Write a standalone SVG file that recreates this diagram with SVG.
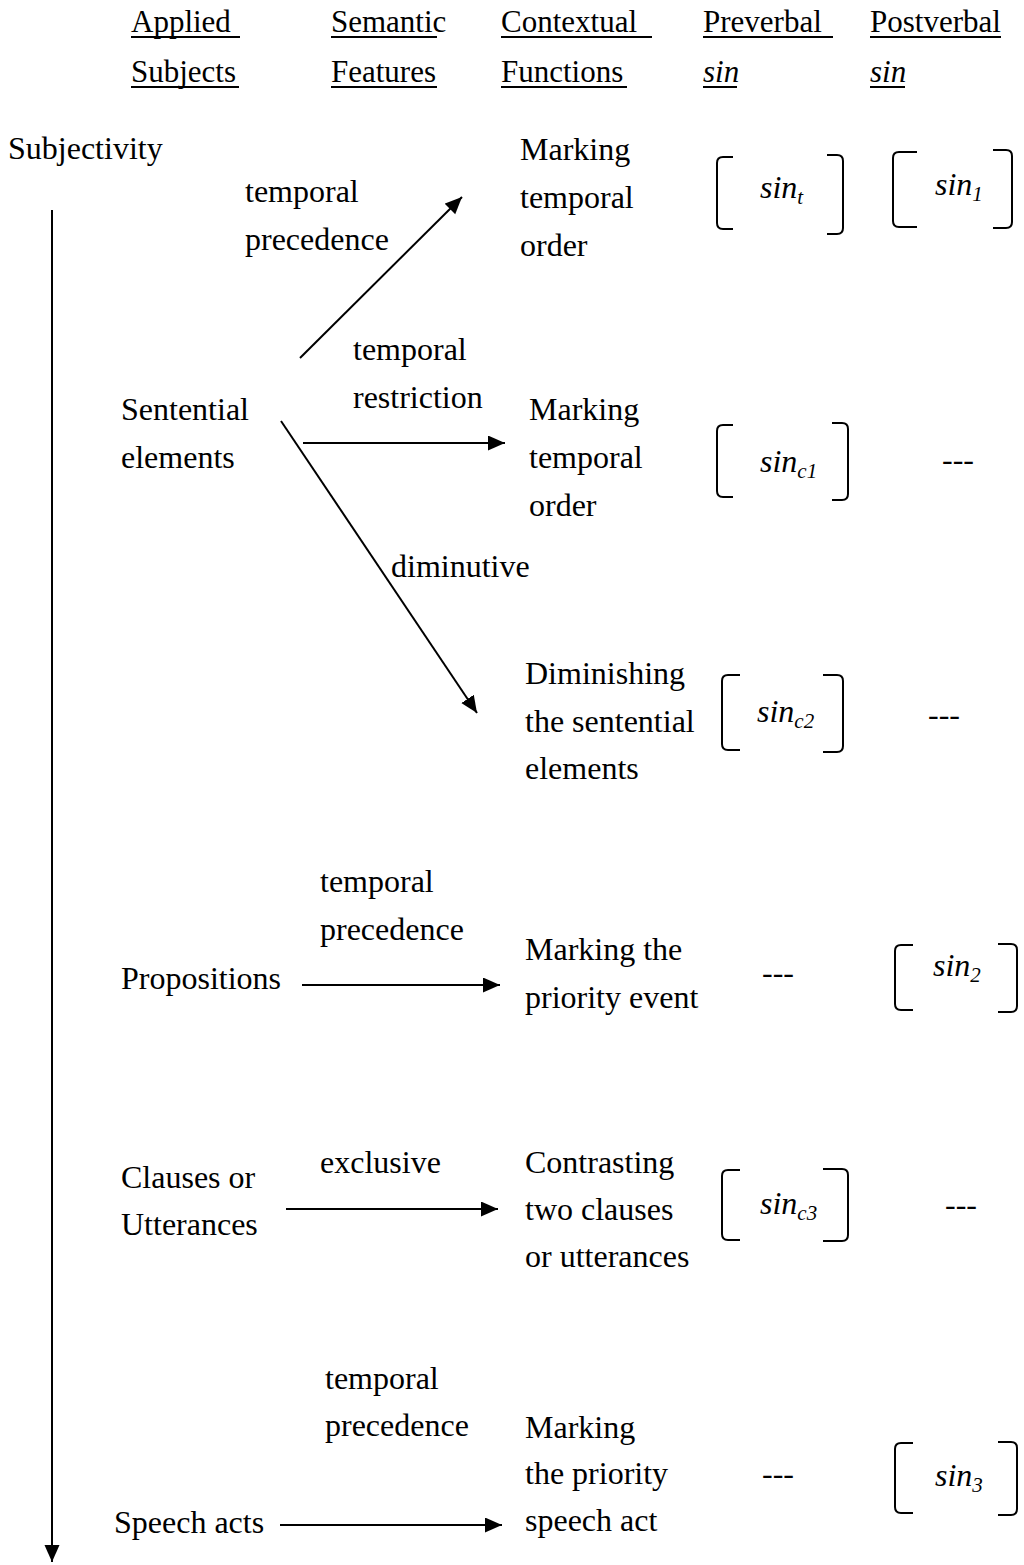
<svg xmlns="http://www.w3.org/2000/svg" width="1024" height="1565" viewBox="0 0 1024 1565">
  <style>
    text { font-family: "Liberation Serif", "Times New Roman", serif; fill: #000; }
    .hd { font-size: 31px; }
    .tx { font-size: 32px; }
    .it { font-style: italic; }
    .sub { font-size: 21px; font-style: italic; }
    .ul { stroke: #000; stroke-width: 2; }
    .br { fill: none; stroke: #000; stroke-width: 2; }
    .cn { stroke: #000; stroke-width: 2; fill: none; marker-end: url(#head); }
  </style>
  <defs>
    <marker id="head" markerUnits="userSpaceOnUse" markerWidth="18" markerHeight="16" refX="17" refY="7.5" orient="auto">
      <path d="M0,0 L17,7.5 L0,15 z" fill="#000"/>
    </marker>
  </defs>

  <rect width="1024" height="1565" fill="#fff"/>

  <!-- column headings -->
  <g id="headings">
    <text class="hd" x="131" y="32">Applied</text>
    <text class="hd" x="131" y="82">Subjects</text>
    <line class="ul" x1="131" y1="37" x2="240" y2="37"/>
    <line class="ul" x1="131" y1="87" x2="239" y2="87"/>

    <text class="hd" x="331" y="32">Semantic</text>
    <text class="hd" x="331" y="82">Features</text>
    <line class="ul" x1="331" y1="37" x2="437" y2="37"/>
    <line class="ul" x1="331" y1="87" x2="437" y2="87"/>

    <text class="hd" x="501" y="32">Contextual</text>
    <text class="hd" x="501" y="82">Functions</text>
    <line class="ul" x1="501" y1="37" x2="652" y2="37"/>
    <line class="ul" x1="501" y1="87" x2="627" y2="87"/>

    <text class="hd" x="703" y="32">Preverbal</text>
    <text class="hd it" x="703" y="82">sin</text>
    <line class="ul" x1="703" y1="37" x2="833" y2="37"/>
    <line class="ul" x1="703" y1="87" x2="737" y2="87"/>

    <text class="hd" x="870" y="32">Postverbal</text>
    <text class="hd it" x="870" y="82">sin</text>
    <line class="ul" x1="870" y1="37" x2="1001" y2="37"/>
    <line class="ul" x1="870" y1="87" x2="905" y2="87"/>
  </g>

  <!-- subjectivity axis -->
  <g id="subjectivity">
    <text class="tx" x="8" y="159">Subjectivity</text>
  </g>

  <!-- applied subjects -->
  <g id="sentential-elements">
    <text class="tx" x="121" y="420">Sentential</text>
    <text class="tx" x="121" y="468">elements</text>
  </g>
  <g id="propositions">
    <text class="tx" x="121" y="989">Propositions</text>
  </g>
  <g id="clauses">
    <text class="tx" x="121" y="1188">Clauses or</text>
    <text class="tx" x="121" y="1235">Utterances</text>
  </g>
  <g id="speech-acts">
    <text class="tx" x="114" y="1533">Speech acts</text>
  </g>

  <!-- semantic features -->
  <g id="feat-precedence-1">
    <text class="tx" x="245" y="202">temporal</text>
    <text class="tx" x="245" y="250">precedence</text>
  </g>
  <g id="feat-restriction">
    <text class="tx" x="353" y="360">temporal</text>
    <text class="tx" x="353" y="408">restriction</text>
  </g>
  <g id="feat-diminutive">
    <text class="tx" x="391" y="577">diminutive</text>
  </g>
  <g id="feat-precedence-2">
    <text class="tx" x="320" y="892">temporal</text>
    <text class="tx" x="320" y="940">precedence</text>
  </g>
  <g id="feat-exclusive">
    <text class="tx" x="320" y="1173">exclusive</text>
  </g>
  <g id="feat-precedence-3">
    <text class="tx" x="325" y="1389">temporal</text>
    <text class="tx" x="325" y="1436">precedence</text>
  </g>

  <!-- contextual functions -->
  <g id="func-temporal-order-1">
    <text class="tx" x="520" y="160">Marking</text>
    <text class="tx" x="520" y="208">temporal</text>
    <text class="tx" x="520" y="256">order</text>
  </g>
  <g id="func-temporal-order-2">
    <text class="tx" x="529" y="420">Marking</text>
    <text class="tx" x="529" y="468">temporal</text>
    <text class="tx" x="529" y="516">order</text>
  </g>
  <g id="func-diminishing">
    <text class="tx" x="525" y="684">Diminishing</text>
    <text class="tx" x="525" y="732">the sentential</text>
    <text class="tx" x="525" y="779">elements</text>
  </g>
  <g id="func-priority-event">
    <text class="tx" x="525" y="960">Marking the</text>
    <text class="tx" x="525" y="1008">priority event</text>
  </g>
  <g id="func-contrasting">
    <text class="tx" x="525" y="1173">Contrasting</text>
    <text class="tx" x="525" y="1220">two clauses</text>
    <text class="tx" x="525" y="1267">or utterances</text>
  </g>
  <g id="func-priority-speech-act">
    <text class="tx" x="525" y="1438">Marking</text>
    <text class="tx" x="525" y="1484">the priority</text>
    <text class="tx" x="525" y="1531">speech act</text>
  </g>

  <!-- preverbal sin -->
  <g id="pre-sin-t">
    <path class="br" d="M733,157 H723 Q717,157 717,163 V223 Q717,229 723,229 H733"/>
    <path class="br" d="M827,155 H837 Q843,155 843,161 V228 Q843,234 837,234 H827"/>
    <text class="tx it" x="760" y="198">sin<tspan class="sub" dy="6">t</tspan></text>
  </g>
  <g id="pre-sin-c1">
    <path class="br" d="M733,425 H723 Q717,425 717,431 V491 Q717,497 723,497 H733"/>
    <path class="br" d="M832,423 H842 Q848,423 848,429 V494 Q848,500 842,500 H832"/>
    <text class="tx it" x="760" y="472">sin<tspan class="sub" dy="6">c1</tspan></text>
  </g>
  <g id="pre-sin-c2">
    <path class="br" d="M740,675 H728 Q722,675 722,681 V744 Q722,750 728,750 H740"/>
    <path class="br" d="M823,675 H837 Q843,675 843,681 V746 Q843,752 837,752 H823"/>
    <text class="tx it" x="757" y="722">sin<tspan class="sub" dy="6">c2</tspan></text>
  </g>
  <g id="pre-none-1">
    <text class="tx" x="762" y="983">---</text>
  </g>
  <g id="pre-sin-c3">
    <path class="br" d="M740,1170 H728 Q722,1170 722,1176 V1234 Q722,1240 728,1240 H740"/>
    <path class="br" d="M823,1169 H842 Q848,1169 848,1175 V1235 Q848,1241 842,1241 H823"/>
    <text class="tx it" x="760" y="1214">sin<tspan class="sub" dy="6">c3</tspan></text>
  </g>
  <g id="pre-none-2">
    <text class="tx" x="762" y="1484">---</text>
  </g>

  <!-- postverbal sin -->
  <g id="post-sin-1">
    <path class="br" d="M917,152 H899 Q893,152 893,158 V221 Q893,227 899,227 H917"/>
    <path class="br" d="M993,150 H1006 Q1012,150 1012,156 V222 Q1012,228 1006,228 H993"/>
    <text class="tx it" x="935" y="195">sin<tspan class="sub" dy="6">1</tspan></text>
  </g>
  <g id="post-none-1">
    <text class="tx" x="942" y="470">---</text>
  </g>
  <g id="post-none-2">
    <text class="tx" x="928" y="725">---</text>
  </g>
  <g id="post-sin-2">
    <path class="br" d="M913,945 H901 Q895,945 895,951 V1004 Q895,1010 901,1010 H913"/>
    <path class="br" d="M998,944 H1011 Q1017,944 1017,950 V1006 Q1017,1012 1011,1012 H998"/>
    <text class="tx it" x="933" y="976">sin<tspan class="sub" dy="6">2</tspan></text>
  </g>
  <g id="post-none-3">
    <text class="tx" x="945" y="1215">---</text>
  </g>
  <g id="post-sin-3">
    <path class="br" d="M913,1443 H901 Q895,1443 895,1449 V1507 Q895,1513 901,1513 H913"/>
    <path class="br" d="M998,1442 H1011 Q1017,1442 1017,1448 V1509 Q1017,1515 1011,1515 H998"/>
    <text class="tx it" x="935" y="1486">sin<tspan class="sub" dy="6">3</tspan></text>
  </g>

  <!-- connectors -->
  <g id="connectors">
    <line class="cn" x1="52" y1="210" x2="52" y2="1562"/>
    <line class="cn" x1="300" y1="358" x2="462" y2="197"/>
    <line class="cn" x1="303" y1="443" x2="505" y2="443"/>
    <line class="cn" x1="281" y1="421" x2="477" y2="713"/>
    <line class="cn" x1="302" y1="985" x2="500" y2="985"/>
    <line class="cn" x1="286" y1="1209" x2="498" y2="1209"/>
    <line class="cn" x1="280" y1="1525" x2="502" y2="1525"/>
  </g>
</svg>
